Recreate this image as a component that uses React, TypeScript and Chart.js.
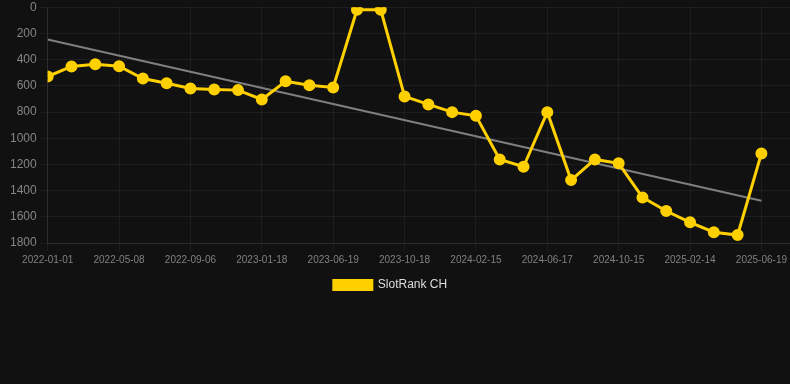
import React, { useEffect, useRef } from "react";
import { Chart, registerables } from "chart.js";

Chart.register(...registerables);

const dateLabels: string[] = [
  "2022-01-01", "2022-02-12", "2022-03-26", "2022-05-08", "2022-06-18", "2022-07-28",
  "2022-09-06", "2022-10-20", "2022-12-04", "2023-01-18", "2023-03-09", "2023-04-29",
  "2023-06-19", "2023-07-29", "2023-09-08", "2023-10-18", "2023-11-26", "2024-01-06",
  "2024-02-15", "2024-03-26", "2024-05-07", "2024-06-17", "2024-07-27", "2024-09-05",
  "2024-10-15", "2024-11-25", "2025-01-04", "2025-02-14", "2025-03-31", "2025-05-15",
  "2025-06-19",
];

const rankValues: number[] = [
  529, 452, 435, 450, 544, 580, 620, 628, 633, 704, 565, 595, 613, 20, 20, 681,
  742, 801, 829, 1162, 1218, 801, 1320, 1162, 1192, 1452, 1556, 1642, 1718, 1739, 1116,
];

const trendStart = 247;
const trendEnd = 1477;

const seriesName = "SlotRank CH";

export default function App() {
  const ref = useRef<HTMLCanvasElement | null>(null);

  useEffect(() => {
    document.body.style.margin = "0";
    document.body.style.background = "#111111";
    if (!ref.current) return;
    const font = "Arial, 'Liberation Sans', Helvetica, sans-serif";
    const lastIdx = dateLabels.length - 1;
    const legendShift = {
      id: "legendShift",
      afterLayout(c: any) {
        if (c.legend) {
          c.legend.left -= 8;
          c.legend.right -= 8;
        }
      },
    };
    const chart = new Chart(ref.current, {
      type: "line",
      data: {
        datasets: [
          {
            label: seriesName,
            data: rankValues.map((v, i) => ({ x: i, y: v })),
            borderColor: "#FFD000",
            backgroundColor: "#FFD000",
            pointBackgroundColor: "#FFD000",
            pointBorderColor: "#FFD000",
            borderWidth: 3,
            pointRadius: 4.5,
            tension: 0,
            order: 1,
          },
          {
            label: "trend",
            data: [
              { x: 0, y: trendStart },
              { x: lastIdx, y: trendEnd },
            ],
            borderColor: "rgba(140,140,140,0.9)",
            borderWidth: 2,
            pointRadius: 0,
            order: 2,
          },
        ],
      },
      options: {
        animation: false,
        responsive: true,
        maintainAspectRatio: false,
        layout: { autoPadding: false, padding: { left: 7, right: 0, top: 4, bottom: 0 } },
        scales: {
          x: {
            type: "linear",
            min: 0,
            max: 31.2,
            grid: { color: "rgba(255,255,255,0.05)" },
            border: { color: "rgba(255,255,255,0.08)" },
            ticks: {
              stepSize: 3,
              includeBounds: false,
              autoSkip: false,
              maxRotation: 0,
              color: "#808080",
              font: { size: 10, family: font },
              callback: (v: any) => {
                const i = Number(v);
                return Number.isInteger(i) && i % 3 === 0 ? dateLabels[i] ?? "" : "";
              },
            },
          },
          y: {
            reverse: true,
            min: 0,
            max: 1800,
            grid: { color: "rgba(255,255,255,0.05)" },
            border: { color: "rgba(255,255,255,0.08)" },
            ticks: {
              stepSize: 200,
              color: "#858585",
              font: { size: 12, family: font },
              callback: (v: any) => String(v),
            },
          },
        },
        plugins: {
          legend: {
            position: "bottom",
            labels: {
              color: "#dddddd",
              boxWidth: 38,
              boxHeight: 9,
              font: { size: 12, family: font },
              filter: (item: any) => item.text !== "trend",
            },
          },
          tooltip: { enabled: false },
        },
      },
      plugins: [legendShift],
    });
    return () => chart.destroy();
  }, []);

  return (
    <div style={{ width: 790, height: 384, background: "#111111", overflow: "hidden" }}>
      <div style={{ width: 790, height: 304, marginTop: -3, position: "relative" }}>
        <canvas ref={ref} />
      </div>
    </div>
  );
}
